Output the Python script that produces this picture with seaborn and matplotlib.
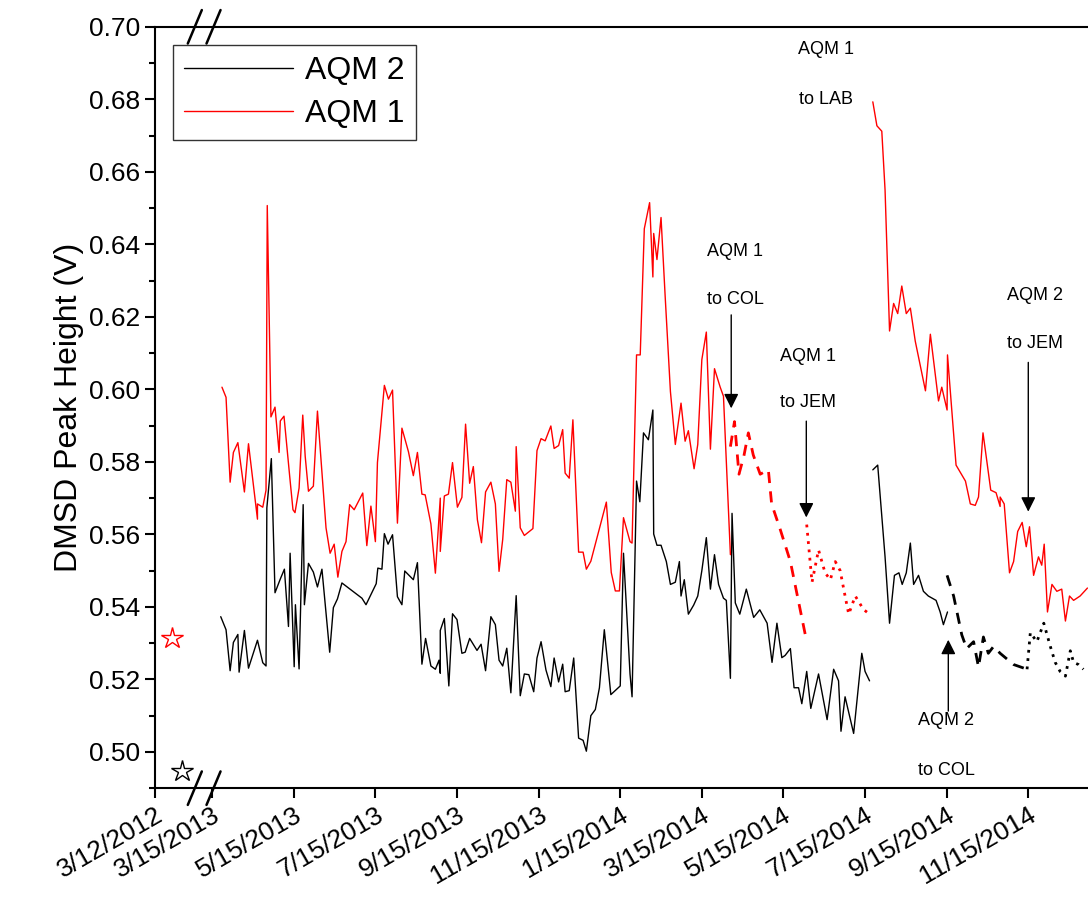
import numpy as np
import pandas as pd
import matplotlib
matplotlib.use("Agg")
import matplotlib.pyplot as plt
import seaborn as sns
from matplotlib.lines import Line2D

# x = months since 3/15/2013
red_a_x = [0.24, 0.34, 0.44, 0.52, 0.63, 0.79, 0.89, 1.11, 1.11, 1.24, 1.32, 1.35, 1.44, 1.54, 1.64, 1.67, 1.76,
           1.90, 1.98, 2.03, 2.13, 2.22, 2.28, 2.36, 2.48, 2.58, 2.79, 2.89, 2.99, 3.08, 3.18, 3.28, 3.37, 3.48,
           3.69, 3.79, 3.89, 4.00, 4.05, 4.22, 4.32, 4.42, 4.54, 4.65, 4.81, 4.93, 5.03, 5.14, 5.22, 5.36, 5.47,
           5.59, 5.59, 5.69, 5.79, 5.89, 6.01, 6.12, 6.21, 6.31, 6.40, 6.50, 6.60, 6.70, 6.83, 6.94, 7.03, 7.12,
           7.22, 7.32, 7.43, 7.45, 7.55, 7.65, 7.86, 7.96, 8.06, 8.16, 8.30, 8.38, 8.49, 8.59, 8.65, 8.75, 8.84,
           8.98, 9.09, 9.17, 9.28, 9.66, 9.78, 9.88, 9.98, 10.08, 10.24, 10.29, 10.40, 10.49, 10.59, 10.72, 10.80,
           10.82, 10.90, 11.00, 11.10, 11.23, 11.35, 11.49, 11.59, 11.67, 11.81, 11.90, 12.00, 12.11, 12.21,
           12.31, 12.45, 12.53, 12.70]
red_a_y = [0.6006, 0.5978, 0.5744, 0.5826, 0.5853, 0.5717, 0.5850, 0.5642, 0.5684, 0.5675, 0.5722, 0.6507, 0.5924,
           0.5951, 0.5826, 0.5913, 0.5926, 0.5760, 0.5668, 0.5660, 0.5728, 0.5929, 0.5815, 0.5719, 0.5733, 0.5940,
           0.5618, 0.5548, 0.5573, 0.5482, 0.5553, 0.5580, 0.5682, 0.5668, 0.5714, 0.5569, 0.5678, 0.5580, 0.5798,
           0.6011, 0.5973, 0.5998, 0.5631, 0.5893, 0.5828, 0.5762, 0.5826, 0.5711, 0.5709, 0.5629, 0.5493, 0.5700,
           0.5553, 0.5706, 0.5711, 0.5798, 0.5675, 0.5702, 0.5904, 0.5741, 0.5787, 0.5640, 0.5577, 0.5717, 0.5744,
           0.5684, 0.5498, 0.5586, 0.5751, 0.5744, 0.5664, 0.5842, 0.5618, 0.5597, 0.5616, 0.5831, 0.5864, 0.5858,
           0.5899, 0.5837, 0.5845, 0.5889, 0.5769, 0.5755, 0.5916, 0.5551, 0.5551, 0.5504, 0.5526, 0.5689, 0.5495,
           0.5444, 0.5444, 0.5646, 0.5580, 0.5576, 0.6095, 0.6095, 0.6443, 0.6515, 0.6310, 0.6430, 0.6358, 0.6474,
           0.6259, 0.5994, 0.5848, 0.5962, 0.5857, 0.5886, 0.5781, 0.5848, 0.6082, 0.6158, 0.5835, 0.6057, 0.6006,
           0.5981, 0.5544]
red_dash_x = [12.70, 12.80, 12.91, 13.03, 13.14, 13.26, 13.43, 13.63, 13.71, 13.92, 14.17, 14.57]
red_dash_y = [0.5842, 0.5911, 0.5766, 0.5816, 0.5880, 0.5819, 0.5766, 0.5778, 0.5684, 0.5614, 0.5525, 0.5304]
red_dot_x = [14.57, 14.70, 14.86, 15.02, 15.15, 15.27, 15.39, 15.51, 15.60, 15.76, 15.96, 16.11]
red_dot_y = [0.5627, 0.5468, 0.5557, 0.5494, 0.5475, 0.5525, 0.5500, 0.5430, 0.5380, 0.5430, 0.5393, 0.5380]
red_b_x = [16.19, 16.29, 16.41, 16.49, 16.60, 16.70, 16.80, 16.90, 17.01, 17.11, 17.23, 17.48, 17.60, 17.80, 17.88,
           18.01, 18.02, 18.23, 18.46, 18.58, 18.70, 18.78, 18.89, 19.08, 19.21, 19.31, 19.31, 19.41, 19.54, 19.64,
           19.74, 19.85, 19.95, 20.03, 20.13, 20.25, 20.33, 20.39, 20.47, 20.58, 20.70, 20.82, 20.91, 21.01, 21.11,
           21.27, 21.45]
red_b_y = [0.6793, 0.6727, 0.6712, 0.6550, 0.6161, 0.6237, 0.6209, 0.6285, 0.6209, 0.6224, 0.6133, 0.5996, 0.6152,
           0.5968, 0.6006, 0.5943, 0.6095, 0.5791, 0.5747, 0.5684, 0.5680, 0.5703, 0.5880, 0.5722, 0.5715, 0.5677,
           0.5703, 0.5684, 0.5494, 0.5525, 0.5608, 0.5633, 0.5566, 0.5621, 0.5487, 0.5538, 0.5515, 0.5573, 0.5386,
           0.5462, 0.5443, 0.5449, 0.5361, 0.5430, 0.5418, 0.5430, 0.5452]

blk_a_x = [0.21, 0.34, 0.44, 0.52, 0.63, 0.66, 0.79, 0.89, 1.11, 1.24, 1.32, 1.34, 1.45, 1.54, 1.67, 1.77, 1.87,
           1.91, 2.01, 2.04, 2.13, 2.23, 2.26, 2.36, 2.48, 2.58, 2.69, 2.88, 2.97, 3.07, 3.18, 3.67, 3.77, 4.02,
           4.06, 4.16, 4.22, 4.31, 4.42, 4.54, 4.65, 4.72, 4.93, 5.03, 5.14, 5.23, 5.36, 5.47, 5.56, 5.59, 5.59,
           5.69, 5.80, 5.89, 6.00, 6.12, 6.20, 6.31, 6.49, 6.59, 6.70, 6.83, 6.94, 7.03, 7.12, 7.22, 7.32, 7.45,
           7.55, 7.65, 7.76, 7.88, 7.96, 8.06, 8.18, 8.30, 8.38, 8.49, 8.59, 8.65, 8.75, 8.86, 8.98, 9.09, 9.17,
           9.28, 9.39, 9.49, 9.61, 9.77, 10.00, 10.08, 10.24, 10.29, 10.40, 10.48, 10.57, 10.69, 10.80, 10.82,
           10.90, 11.00, 11.13, 11.23, 11.35, 11.45, 11.49, 11.57, 11.67, 11.80, 11.90, 12.00, 12.11, 12.21, 12.31,
           12.41, 12.53, 12.60, 12.70, 12.74, 12.82, 12.93, 13.09, 13.27, 13.42, 13.60, 13.72, 13.84, 13.96, 14.04,
           14.17, 14.26, 14.37, 14.45, 14.57, 14.67, 14.86, 15.07, 15.23, 15.35, 15.41, 15.51, 15.72, 15.92, 16.00,
           16.11]
blk_a_y = [0.5373, 0.5337, 0.5224, 0.5302, 0.5324, 0.5220, 0.5335, 0.5231, 0.5308, 0.5246, 0.5237, 0.5673, 0.5809,
           0.5439, 0.5477, 0.5504, 0.5346, 0.5548, 0.5235, 0.5406, 0.5229, 0.5682, 0.5406, 0.5520, 0.5496, 0.5455,
           0.5504, 0.5275, 0.5398, 0.5422, 0.5466, 0.5424, 0.5406, 0.5464, 0.5507, 0.5504, 0.5602, 0.5573, 0.5599,
           0.5428, 0.5406, 0.5499, 0.5475, 0.5522, 0.5242, 0.5313, 0.5237, 0.5228, 0.5253, 0.5217, 0.5335, 0.5368,
           0.5182, 0.5381, 0.5365, 0.5272, 0.5275, 0.5313, 0.5280, 0.5297, 0.5224, 0.5373, 0.5351, 0.5253, 0.5237,
           0.5286, 0.5163, 0.5431, 0.5155, 0.5215, 0.5213, 0.5166, 0.5259, 0.5304, 0.5226, 0.5180, 0.5259, 0.5193,
           0.5242, 0.5166, 0.5169, 0.5259, 0.5038, 0.5032, 0.5002, 0.5100, 0.5117, 0.5177, 0.5337, 0.5158, 0.5182,
           0.5548, 0.5215, 0.5152, 0.5747, 0.5690, 0.5880, 0.5861, 0.5943, 0.5601, 0.5570, 0.5570, 0.5525, 0.5462,
           0.5468, 0.5525, 0.5430, 0.5475, 0.5380, 0.5405, 0.5430, 0.5500, 0.5591, 0.5449, 0.5544, 0.5462, 0.5424,
           0.5418, 0.5203, 0.5658, 0.5411, 0.5380, 0.5449, 0.5371, 0.5392, 0.5355, 0.5247, 0.5355, 0.5260, 0.5266,
           0.5285, 0.5177, 0.5177, 0.5133, 0.5222, 0.5120, 0.5215, 0.5089, 0.5228, 0.5196, 0.5057, 0.5152, 0.5051,
           0.5272, 0.5222, 0.5196]
blk_b_x = [16.19, 16.31, 16.49, 16.60, 16.72, 16.83, 16.91, 17.01, 17.11, 17.19, 17.31, 17.43, 17.55, 17.74, 17.84,
           17.92, 18.02]
blk_b_y = [0.5778, 0.5791, 0.5538, 0.5355, 0.5487, 0.5494, 0.5462, 0.5494, 0.5576, 0.5462, 0.5487, 0.5443, 0.5430,
           0.5418, 0.5386, 0.5351, 0.5386]
blk_dash_x = [18.01, 18.17, 18.37, 18.49, 18.66, 18.78, 18.90, 19.02, 19.15, 19.31, 19.64, 19.97]
blk_dash_y = [0.5487, 0.5430, 0.5323, 0.5285, 0.5304, 0.5234, 0.5317, 0.5272, 0.5291, 0.5272, 0.5241, 0.5228]
blk_dot_x = [19.97, 20.05, 20.21, 20.38, 20.54, 20.66, 20.78, 20.91, 21.03, 21.11, 21.23, 21.35]
blk_dot_y = [0.5228, 0.5329, 0.5304, 0.5355, 0.5291, 0.5247, 0.5222, 0.5209, 0.5279, 0.5247, 0.5241, 0.5228]

ref_red = (-0.99, 0.5313)
ref_blk = (-0.74, 0.4947)

tick_pos = [-1.4, 0, 2, 4, 6, 8, 10, 12, 14, 16, 18, 20]
tick_lab = ["3/12/2012", "3/15/2013", "5/15/2013", "7/15/2013", "9/15/2013", "11/15/2013", "1/15/2014",
            "3/15/2014", "5/15/2014", "7/15/2014", "9/15/2014", "11/15/2014"]

sns.set_theme(style="ticks")
plt.rcParams['font.family'] = ['Liberation Sans', 'DejaVu Sans']
plt.rcParams['text.color'] = 'black'
plt.rcParams['xtick.color'] = 'black'
plt.rcParams['ytick.color'] = 'black'
plt.rcParams['axes.labelcolor'] = 'black'

fig = plt.figure(figsize=(10.88, 9.24), dpi=100)
ax = fig.add_axes([0.1425, 0.147, 0.86, 0.824])

def seg(x, y, color, ls, lw):
    sns.lineplot(x=x, y=y, ax=ax, color=color, linestyle=ls, lw=lw, sort=False, estimator=None, legend=False)

seg(blk_a_x, blk_a_y, "black", "-", 1.0)
seg(blk_b_x, blk_b_y, "black", "-", 1.0)
seg(blk_dash_x, blk_dash_y, "black", (0, (4, 3)), 2.0)
seg(blk_dot_x, blk_dot_y, "black", (0, (1, 2)), 2.0)
seg(red_a_x, red_a_y, "red", "-", 1.0)
seg(red_b_x, red_b_y, "red", "-", 1.0)
seg(red_dash_x, red_dash_y, "red", (0, (4, 3)), 2.0)
seg(red_dot_x, red_dot_y, "red", (0, (1, 2)), 2.0)

ax.plot(*ref_red, marker="*", ms=16, mfc="white", mec="red", mew=1, ls="none")
ax.plot(*ref_blk, marker="*", ms=16, mfc="white", mec="black", mew=1, ls="none")

ax.set_xlim(-1.4, 21.53)
ax.set_ylim(0.49, 0.70)
ax.set_yticks(np.arange(0.50, 0.701, 0.02))
ax.set_yticks(np.arange(0.49, 0.701, 0.01), minor=True)
ax.set_yticklabels([f"{v:.2f}" for v in np.arange(0.50, 0.701, 0.02)], fontsize=19)
ax.set_xticks(tick_pos)
ax.set_xticklabels(tick_lab, fontsize=19, rotation=30, ha="right", rotation_mode="anchor")
ax.tick_params(axis="both", which="major", direction="out", length=7, width=1.5, color="black")
ax.tick_params(axis="y", which="minor", direction="out", length=4, width=1.5)
ax.set_ylabel("DMSD Peak Height (V)", fontsize=23)
for s in ["left", "bottom", "top"]:
    ax.spines[s].set_linewidth(1.5)
    ax.spines[s].set_color("black")
ax.spines["right"].set_visible(False)

# axis break marks
for y0 in (0.0, 1.0):
    for dx in (0.0, 0.02):
        ax.plot([0.035 + dx, 0.05 + dx], [y0 - 0.022, y0 + 0.022], transform=ax.transAxes, color="black",
                lw=1.8, clip_on=False)

handles = [Line2D([], [], color="black", lw=1), Line2D([], [], color="red", lw=1)]
leg = ax.legend(handles, ["AQM 2", "AQM 1"], loc="upper left", bbox_to_anchor=(0.019, 0.976), fontsize=23,
                frameon=True, fancybox=False, edgecolor="black", handlelength=3.4, handletextpad=0.4,
                borderpad=0.35, labelspacing=0.4, borderaxespad=0)
leg.set_zorder(10)

fs = 13
ax.text(15.05, 0.6937, "AQM 1", ha="center", va="center", fontsize=fs)
ax.text(15.05, 0.6799, "to LAB", ha="center", va="center", fontsize=fs)
ax.text(12.82, 0.6379, "AQM 1", ha="center", va="center", fontsize=fs)
ax.text(12.82, 0.6247, "to COL", ha="center", va="center", fontsize=fs)
ax.text(14.61, 0.6092, "AQM 1", ha="center", va="center", fontsize=fs)
ax.text(14.61, 0.5963, "to JEM", ha="center", va="center", fontsize=fs)
ax.text(20.17, 0.6258, "AQM 2", ha="center", va="center", fontsize=fs)
ax.text(20.17, 0.6126, "to JEM", ha="center", va="center", fontsize=fs)
ax.text(17.99, 0.5088, "AQM 2", ha="center", va="center", fontsize=fs)
ax.text(17.99, 0.4950, "to COL", ha="center", va="center", fontsize=fs)
arrows = [(12.72, 0.6213, 0.5940), (14.56, 0.5920, 0.5639), (20.0, 0.6082, 0.5655), (18.04, 0.5105, 0.5317)]
for x, y1, y2 in arrows:
    ax.annotate("", xy=(x, y2), xytext=(x, y1),
                arrowprops=dict(arrowstyle="-|>", color="black", lw=1, mutation_scale=22))

fig.savefig("out.png", dpi=100)
